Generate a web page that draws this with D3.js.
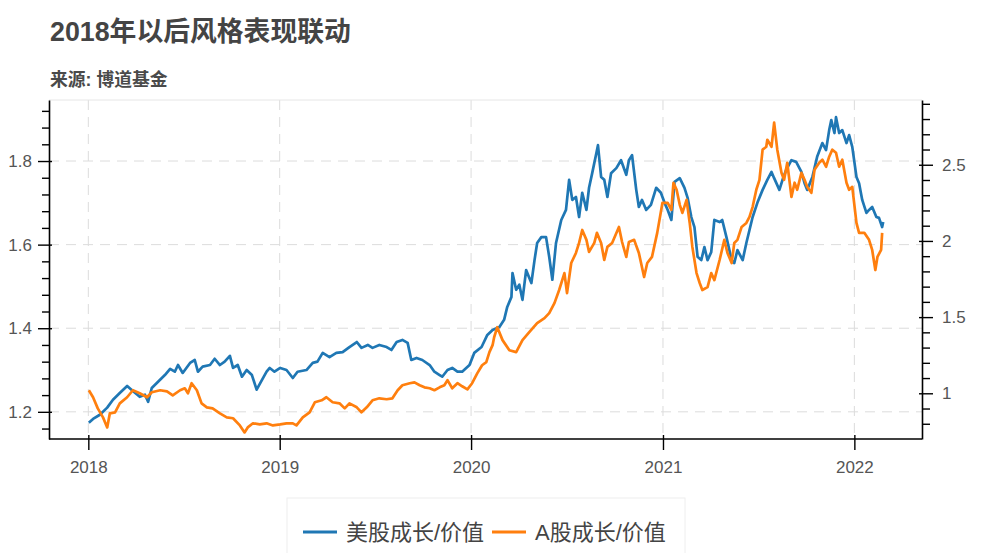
<!DOCTYPE html>
<html><head><meta charset="utf-8">
<script src="https://cdn.jsdelivr.net/npm/d3@7"></script>
<style>body{margin:0;background:#fff}svg{display:block}</style>
</head><body><svg id="chart" width="991" height="553"></svg>
<script>
// ---- Data ----
const usDates = ["2018-01-02","2018-01-10","2018-01-23","2018-02-06","2018-02-17","2018-03-02","2018-03-16","2018-03-27","2018-04-09","2018-04-19","2018-04-25","2018-05-02","2018-05-14","2018-05-27","2018-06-06","2018-06-15","2018-06-21","2018-06-30","2018-07-14","2018-07-23","2018-07-29","2018-08-07","2018-08-21","2018-08-30","2018-09-09","2018-09-18","2018-09-28","2018-10-04","2018-10-13","2018-10-21","2018-10-30","2018-11-09","2018-11-18","2018-11-28","2018-12-07","2018-12-13","2018-12-22","2019-01-02","2019-01-14","2019-01-26","2019-02-04","2019-02-21","2019-03-05","2019-03-14","2019-03-24","2019-04-06","2019-04-19","2019-05-01","2019-05-14","2019-05-28","2019-06-06","2019-06-18","2019-06-27","2019-07-10","2019-07-24","2019-08-02","2019-08-12","2019-08-23","2019-09-02","2019-09-09","2019-09-19","2019-09-30","2019-10-14","2019-10-23","2019-11-02","2019-11-07","2019-11-17","2019-11-26","2019-12-06","2019-12-15","2019-12-29","2020-01-07","2020-01-21","2020-02-01","2020-02-11","2020-02-24","2020-03-04","2020-03-10","2020-03-18","2020-03-20","2020-03-27","2020-04-02","2020-04-08","2020-04-15","2020-04-25","2020-05-01","2020-05-06","2020-05-14","2020-05-23","2020-05-29","2020-06-04","2020-06-11","2020-06-21","2020-06-30","2020-07-06","2020-07-12","2020-07-19","2020-07-25","2020-07-31","2020-08-08","2020-08-13","2020-08-19","2020-08-27","2020-08-30","2020-09-05","2020-09-11","2020-09-17","2020-09-24","2020-10-04","2020-10-13","2020-10-23","2020-10-28","2020-11-03","2020-11-11","2020-11-16","2020-11-22","2020-11-30","2020-12-09","2020-12-19","2020-12-28","2021-01-04","2021-01-10","2021-01-17","2021-01-23","2021-02-02","2021-02-11","2021-02-17","2021-02-24","2021-03-02","2021-03-06","2021-03-08","2021-03-15","2021-03-21","2021-03-27","2021-04-03","2021-04-09","2021-04-19","2021-04-24","2021-05-02","2021-05-12","2021-05-17","2021-05-23","2021-06-02","2021-06-09","2021-06-15","2021-06-21","2021-06-30","2021-07-10","2021-07-19","2021-07-27","2021-08-01","2021-08-11","2021-08-17","2021-08-24","2021-09-03","2021-09-12","2021-09-22","2021-09-28","2021-10-03","2021-10-13","2021-10-22","2021-11-01","2021-11-08","2021-11-14","2021-11-18","2021-11-24","2021-11-27","2021-12-03","2021-12-09","2021-12-17","2021-12-22","2021-12-28","2022-01-05","2022-01-10","2022-01-16","2022-01-24","2022-01-29","2022-02-04","2022-02-12","2022-02-17","2022-02-23","2022-02-25"];
const usValues = [1.174,1.183,1.193,1.210,1.229,1.245,1.262,1.250,1.236,1.241,1.224,1.257,1.272,1.288,1.303,1.296,1.312,1.293,1.317,1.324,1.296,1.308,1.312,1.327,1.312,1.320,1.334,1.305,1.312,1.284,1.300,1.288,1.253,1.276,1.296,1.305,1.296,1.305,1.300,1.281,1.296,1.300,1.317,1.320,1.341,1.331,1.341,1.343,1.355,1.367,1.353,1.360,1.353,1.360,1.355,1.348,1.367,1.372,1.365,1.324,1.329,1.324,1.312,1.296,1.288,1.284,1.300,1.305,1.296,1.296,1.312,1.341,1.355,1.384,1.396,1.403,1.420,1.451,1.475,1.532,1.492,1.504,1.468,1.539,1.508,1.563,1.604,1.618,1.618,1.571,1.516,1.604,1.659,1.683,1.755,1.707,1.714,1.666,1.724,1.683,1.736,1.771,1.819,1.838,1.762,1.755,1.714,1.771,1.783,1.802,1.767,1.802,1.814,1.731,1.690,1.707,1.683,1.695,1.736,1.724,1.700,1.683,1.659,1.750,1.759,1.736,1.712,1.666,1.642,1.594,1.571,1.563,1.594,1.563,1.582,1.659,1.654,1.659,1.618,1.563,1.556,1.587,1.563,1.604,1.635,1.666,1.700,1.731,1.755,1.774,1.759,1.731,1.755,1.779,1.802,1.798,1.774,1.747,1.731,1.762,1.810,1.843,1.826,1.874,1.898,1.867,1.905,1.867,1.874,1.843,1.862,1.834,1.762,1.747,1.707,1.676,1.683,1.690,1.666,1.664,1.642,1.654];

const aDates = ["2018-01-02","2018-01-10","2018-01-19","2018-01-29","2018-02-06","2018-02-11","2018-02-21","2018-03-02","2018-03-16","2018-03-27","2018-04-09","2018-04-23","2018-05-02","2018-05-18","2018-05-31","2018-06-11","2018-06-25","2018-07-04","2018-07-10","2018-07-17","2018-07-27","2018-08-05","2018-08-15","2018-08-26","2018-09-09","2018-09-22","2018-10-04","2018-10-17","2018-10-26","2018-11-01","2018-11-11","2018-11-24","2018-12-07","2018-12-19","2019-01-02","2019-01-14","2019-01-26","2019-02-02","2019-02-14","2019-02-27","2019-03-09","2019-03-22","2019-03-31","2019-04-12","2019-04-25","2019-05-05","2019-05-14","2019-05-28","2019-06-06","2019-06-16","2019-06-27","2019-07-10","2019-07-24","2019-08-04","2019-08-14","2019-08-23","2019-09-06","2019-09-15","2019-09-25","2019-10-04","2019-10-14","2019-10-23","2019-11-02","2019-11-11","2019-11-17","2019-11-26","2019-12-06","2019-12-15","2019-12-25","2020-01-03","2020-01-13","2020-01-22","2020-01-30","2020-02-05","2020-02-11","2020-02-14","2020-02-20","2020-03-01","2020-03-14","2020-03-27","2020-04-08","2020-04-21","2020-05-06","2020-05-20","2020-05-29","2020-06-08","2020-06-17","2020-06-27","2020-07-02","2020-07-10","2020-07-19","2020-07-25","2020-07-31","2020-08-08","2020-08-13","2020-08-23","2020-08-28","2020-09-05","2020-09-11","2020-09-17","2020-09-26","2020-10-09","2020-10-15","2020-10-23","2020-10-28","2020-11-07","2020-11-16","2020-11-26","2020-12-02","2020-12-11","2020-12-21","2020-12-31","2021-01-10","2021-01-17","2021-01-21","2021-01-27","2021-02-02","2021-02-07","2021-02-15","2021-02-21","2021-02-26","2021-03-06","2021-03-12","2021-03-17","2021-03-27","2021-04-03","2021-04-09","2021-04-19","2021-04-28","2021-05-04","2021-05-12","2021-05-17","2021-05-23","2021-05-31","2021-06-09","2021-06-15","2021-06-21","2021-06-28","2021-07-04","2021-07-10","2021-07-17","2021-07-19","2021-07-27","2021-08-01","2021-08-07","2021-08-15","2021-08-20","2021-08-26","2021-09-03","2021-09-09","2021-09-14","2021-09-22","2021-09-28","2021-10-03","2021-10-11","2021-10-17","2021-10-26","2021-11-01","2021-11-08","2021-11-14","2021-11-20","2021-11-27","2021-12-03","2021-12-09","2021-12-17","2021-12-22","2021-12-28","2022-01-05","2022-01-10","2022-01-20","2022-01-29","2022-02-04","2022-02-10","2022-02-14","2022-02-21","2022-02-23"];
const aValues = [1.020,0.974,0.901,0.842,0.776,0.868,0.875,0.934,0.974,1.020,1.000,0.974,1.007,1.020,1.013,0.987,1.020,1.033,1.000,1.066,1.020,0.934,0.908,0.901,0.868,0.842,0.836,0.789,0.743,0.776,0.803,0.796,0.803,0.789,0.796,0.803,0.803,0.789,0.842,0.875,0.941,0.954,0.974,0.941,0.934,0.901,0.934,0.908,0.875,0.908,0.954,0.967,0.961,0.967,1.020,1.053,1.066,1.072,1.053,1.039,1.033,1.020,1.039,1.053,1.086,1.033,1.066,1.046,1.026,1.066,1.132,1.184,1.204,1.270,1.316,1.368,1.434,1.349,1.283,1.270,1.349,1.401,1.461,1.493,1.526,1.592,1.678,1.789,1.658,1.855,1.921,1.987,2.072,2.007,1.928,1.987,2.053,1.987,1.875,1.961,1.987,2.092,1.993,1.895,1.993,2.007,1.921,1.763,1.855,1.895,2.053,2.250,2.250,2.204,2.382,2.336,2.237,2.184,2.270,2.118,1.961,1.789,1.724,1.678,1.697,1.789,1.743,1.875,2.007,1.921,1.855,1.987,2.007,2.092,2.118,2.158,2.224,2.336,2.401,2.599,2.618,2.664,2.618,2.776,2.599,2.447,2.401,2.513,2.289,2.382,2.336,2.447,2.401,2.355,2.316,2.467,2.513,2.533,2.487,2.553,2.599,2.579,2.487,2.533,2.382,2.336,2.355,2.118,2.053,2.053,2.007,1.941,1.809,1.895,1.941,2.053];

const seriesNames = ["美股成长/价值", "A股成长/价值"];
const seriesColors = ["#1f77b4", "#ff7f0e"];
const xTickYears = ["2018", "2019", "2020", "2021", "2022"];
const leftTicks = [1.2, 1.4, 1.6, 1.8];
const leftMinorTicks = [1.16,1.24,1.28,1.32,1.36,1.44,1.48,1.52,1.56,1.64,1.68,1.72,1.76,1.84,1.88,1.92];
const rightTicks = [1, 1.5, 2, 2.5];
const rightMinorTicks = [0.8,0.9,1.1,1.2,1.3,1.4,1.6,1.7,1.8,1.9,2.1,2.2,2.3,2.4,2.6,2.7,2.8,2.9];
const titleText = "2018年以后风格表现联动";
const subtitleText = "来源: 博道基金";

// ---- Layout ----
const L = 49, R = 922, T = 100, B = 439;
const FONT = "'Liberation Sans', Arial, 'Noto Sans CJK SC', sans-serif";
const svg = d3.select("#chart");
const parse = d3.timeParse("%Y-%m-%d");

const x = d3.scaleTime().domain([new Date(2017, 9, 18), new Date(2022, 4, 10)]).range([L, R]);
const yL = d3.scaleLinear().domain([1.135, 1.946]).range([B, T]);
const yR = d3.scaleLinear().domain([0.70, 2.925]).range([B, T]);

const us = usDates.map((d, i) => ({date: parse(d), v: usValues[i]}));
const cn = aDates.map((d, i) => ({date: parse(d), v: aValues[i]}));
const yearDates = xTickYears.map(y => new Date(+y, 0, 1));

// title
svg.append("text").attr("x", 50).attr("y", 41)
  .attr("font-family", FONT).attr("font-size", 26.8).attr("font-weight", "bold")
  .attr("fill", "#444").text(titleText);
svg.append("text").attr("x", 50).attr("y", 86)
  .attr("font-family", FONT).attr("font-size", 17.8).attr("font-weight", "bold")
  .attr("fill", "#4a4a4a").text(subtitleText);

// grid
const grid = svg.append("g").attr("stroke", "#dcdcdc").attr("stroke-width", 1).attr("stroke-dasharray", "10,7");
grid.selectAll(".vg").data(yearDates).join("line")
  .attr("x1", d => x(d)).attr("x2", d => x(d)).attr("y1", T).attr("y2", B);
grid.selectAll(".hg").data(leftTicks).join("line")
  .attr("x1", L).attr("x2", R).attr("y1", d => yL(d)).attr("y2", d => yL(d));

// top frame line
svg.append("line").attr("x1", L).attr("x2", R).attr("y1", T).attr("y2", T)
  .attr("stroke", "#e6e6e6").attr("stroke-width", 1);

// lines
const lineL = d3.line().x(d => x(d.date)).y(d => yL(d.v));
const lineR = d3.line().x(d => x(d.date)).y(d => yR(d.v));
svg.append("path").datum(us).attr("d", lineL).attr("fill", "none")
  .attr("stroke", seriesColors[0]).attr("stroke-width", 2.7).attr("stroke-linejoin", "round");
svg.append("path").datum(cn).attr("d", lineR).attr("fill", "none")
  .attr("stroke", seriesColors[1]).attr("stroke-width", 2.7).attr("stroke-linejoin", "round");

function styleAxis(g) {
  g.selectAll("path.domain").attr("stroke", "#000").attr("stroke-width", 1.6);
  g.selectAll(".tick line").attr("stroke", "#000").attr("stroke-width", 1.4);
  g.selectAll(".tick text").attr("font-family", FONT).attr("font-size", 17).attr("fill", "#555");
}

// left axis
const gLmin = svg.append("g").attr("transform", `translate(${L},0)`)
  .call(d3.axisLeft(yL).tickValues(leftMinorTicks).tickSize(7).tickSizeOuter(0).tickFormat(""));
styleAxis(gLmin); gLmin.select("path.domain").remove();
const gL = svg.append("g").attr("transform", `translate(${L},0)`)
  .call(d3.axisLeft(yL).tickValues(leftTicks).tickSize(11).tickSizeOuter(0).tickPadding(6).tickFormat(d3.format(".1f")));
styleAxis(gL); gL.selectAll(".tick line").attr("x1", 3);

// right axis
const gRmin = svg.append("g").attr("transform", `translate(${R},0)`)
  .call(d3.axisRight(yR).tickValues(rightMinorTicks).tickSize(8).tickSizeOuter(0).tickFormat(""));
styleAxis(gRmin); gRmin.select("path.domain").remove();
const gR = svg.append("g").attr("transform", `translate(${R},0)`)
  .call(d3.axisRight(yR).tickValues(rightTicks).tickSize(11).tickSizeOuter(0).tickPadding(9).tickFormat(d3.format("~g")));
styleAxis(gR); gR.selectAll(".tick line").attr("x1", -3);

// bottom axis
const gB = svg.append("g").attr("transform", `translate(0,${B})`)
  .call(d3.axisBottom(x).tickValues(yearDates).tickSize(11).tickSizeOuter(0).tickPadding(11).tickFormat(d3.timeFormat("%Y")));
styleAxis(gB); gB.selectAll(".tick line").attr("y1", -4);
gB.select("path.domain").attr("d", `M${L},0H${R}`);

// legend
const lg = svg.append("g");
lg.append("rect").attr("x", 287).attr("y", 498).attr("width", 398).attr("height", 80)
  .attr("fill", "#fff").attr("stroke", "#eeeeee").attr("stroke-width", 1);
const legendX = [303, 492];
seriesNames.forEach((name, i) => {
  lg.append("line").attr("x1", legendX[i]).attr("x2", legendX[i] + 34).attr("y1", 532).attr("y2", 532)
    .attr("stroke", seriesColors[i]).attr("stroke-width", 3);
  lg.append("text").attr("x", legendX[i] + 43).attr("y", 540)
    .attr("font-family", FONT).attr("font-size", 22).attr("fill", "#444").text(name);
});
</script>
</body></html>
